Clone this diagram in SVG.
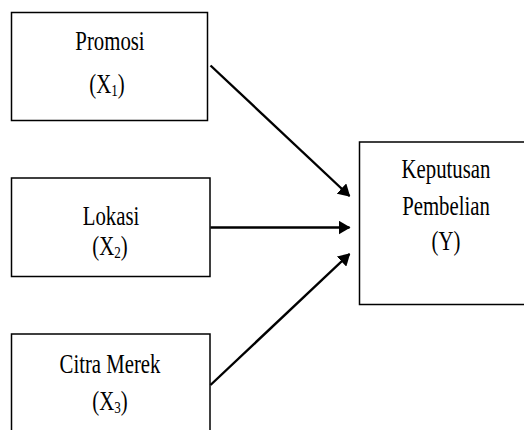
<svg xmlns="http://www.w3.org/2000/svg" width="524" height="430" viewBox="0 0 524 430">
<defs>
<style>
.box{fill:#fff;stroke:#000;stroke-width:1.5}
.t{font-family:"Liberation Serif","Times New Roman",serif;font-size:27px;fill:#000;text-anchor:middle}
.c{stroke:#000;stroke-width:2.4;fill:none;marker-end:url(#ah)}
</style>
<marker id="ah" markerWidth="12" markerHeight="14" refX="11" refY="7" orient="auto" markerUnits="userSpaceOnUse" viewBox="0 0 12 14">
<path d="M0,0 L12,7 L0,14 z" fill="#000"/>
</marker>
</defs>
<rect width="524" height="430" fill="#fff"/>
<g id="promosi">
<rect class="box" x="11.5" y="12.5" width="196" height="108"/>
<text class="t" transform="translate(110,50) scale(0.77,1)">Promosi</text>
<text class="t" transform="translate(107,93) scale(0.77,1)">(X<tspan font-size="17" dy="3">1</tspan><tspan dy="-3">)</tspan></text>
</g>
<g id="lokasi">
<rect class="box" x="11.5" y="178" width="198.5" height="98.5"/>
<text class="t" transform="translate(111,225) scale(0.77,1)">Lokasi</text>
<text class="t" transform="translate(110,255) scale(0.77,1)">(X<tspan font-size="17" dy="3">2</tspan><tspan dy="-3">)</tspan></text>
</g>
<g id="citra">
<rect class="box" x="11.5" y="334" width="198.5" height="110"/>
<text class="t" transform="translate(110,372.5) scale(0.77,1)">Citra Merek</text>
<text class="t" transform="translate(110,410) scale(0.77,1)">(X<tspan font-size="17" dy="3">3</tspan><tspan dy="-3">)</tspan></text>
</g>
<g id="keputusan">
<rect class="box" x="359.5" y="142" width="180" height="162.5"/>
<text class="t" transform="translate(446,178) scale(0.77,1)">Keputusan</text>
<text class="t" transform="translate(446,215) scale(0.77,1)">Pembelian</text>
<text class="t" transform="translate(446,250) scale(0.77,1)">(Y)</text>
</g>
<g id="connectors">
<line class="c" x1="210.5" y1="65.5" x2="349.5" y2="196"/>
<line class="c" x1="210.5" y1="227.5" x2="349.5" y2="227.5"/>
<line class="c" x1="210.5" y1="385" x2="349.5" y2="254"/>
</g>
</svg>
